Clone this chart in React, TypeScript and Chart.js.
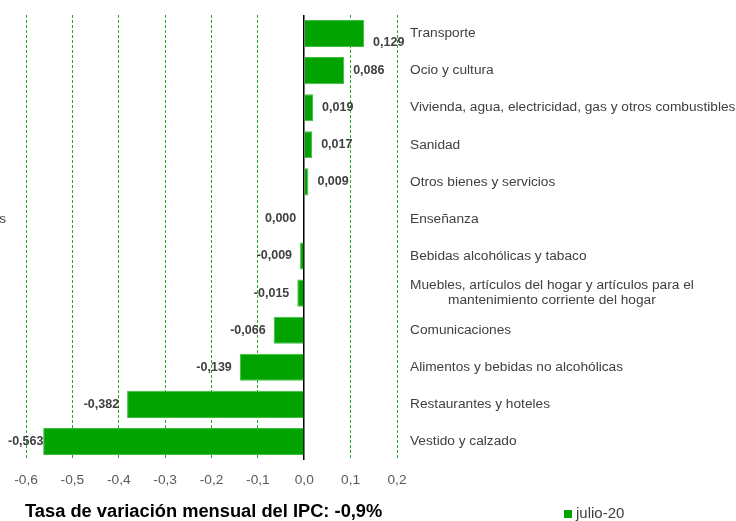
import React, { useEffect, useRef } from "react";
import { Chart, registerables } from "chart.js";

Chart.register(...registerables);

const categories: (string | string[])[] = [
  "Transporte",
  "Ocio y cultura",
  "Vivienda, agua, electricidad, gas y otros combustibles",
  "Sanidad",
  "Otros bienes y servicios",
  "Enseñanza",
  "Bebidas alcohólicas y tabaco",
  ["Muebles, artículos del hogar y artículos para el", "          mantenimiento corriente del hogar"],
  "Comunicaciones",
  "Alimentos y bebidas no alcohólicas",
  "Restaurantes y hoteles",
  "Vestido y calzado",
];

const values: number[] = [0.129, 0.086, 0.019, 0.017, 0.009, 0.0, -0.009, -0.015, -0.066, -0.139, -0.382, -0.563];

const seriesName = "julio-20";
const chartTitle = "Tasa de variación mensual del IPC: -0,9%";
const xMin = -0.6;
const xMax = 0.2;
const xStep = 0.1;

const FONT = '"Liberation Sans", Arial, sans-serif';
const GREEN = "#00a300";

const fmtTick = (v: number) => v.toFixed(1).replace(".", ",");
const fmtVal = (v: number) => v.toFixed(3).replace(".", ",");

const labelsPlugin = {
  id: "valueLabels",
  afterDatasetsDraw(chart: any) {
    const ctx = chart.ctx;
    const meta = chart.getDatasetMeta(0);
    ctx.save();
    ctx.font = `bold 12.5px ${FONT}`;
    ctx.fillStyle = "#404040";
    ctx.textBaseline = "middle";
    meta.data.forEach((bar: any, i: number) => {
      const v = values[i];
      const text = fmtVal(v);
      const w = ctx.measureText(text).width;
      const dy = i === 0 ? 9 : 0;
      if (v > 0) {
        ctx.textAlign = "left";
        ctx.fillText(text, bar.x + 9, bar.y + dy);
      } else {
        let right = bar.x - 8;
        if (right - w < 8) right = 8 + w;
        ctx.textAlign = "right";
        ctx.fillText(text, right, bar.y + dy);
      }
    });
    ctx.restore();
  },
  afterDraw(chart: any) {
    const ctx = chart.ctx;
    ctx.save();
    // title
    ctx.font = `bold 18.3px ${FONT}`;
    ctx.fillStyle = "#000000";
    ctx.textAlign = "left";
    ctx.textBaseline = "middle";
    ctx.fillText(chartTitle, 25, 512);
    // legend
    ctx.fillStyle = GREEN;
    ctx.fillRect(564, 510, 8, 8);
    ctx.font = `15px ${FONT}`;
    ctx.fillStyle = "#404040";
    ctx.fillText(seriesName, 576, 514);
    // stray clipped text at left edge
    ctx.font = `13.7px ${FONT}`;
    ctx.textAlign = "right";
    ctx.fillText("s", 6, 219);
    ctx.restore();
  },
};

export default function App() {
  const ref = useRef<HTMLCanvasElement | null>(null);
  useEffect(() => {
    if (!ref.current) return;
    const chart = new Chart(ref.current, {
      type: "bar",
      data: {
        labels: categories,
        datasets: [
          {
            label: seriesName,
            data: values,
            backgroundColor: GREEN,
            borderColor: "#3cc03c",
            borderWidth: 1,
            barPercentage: 0.73,
            categoryPercentage: 1,
          },
        ],
      },
      options: {
        indexAxis: "y",
        animation: false,
        responsive: true,
        maintainAspectRatio: false,
        layout: { padding: { left: 26, top: 15, right: 0, bottom: 0 } },
        plugins: {
          legend: { display: false },
          title: { display: false },
          tooltip: { enabled: false },
        },
        scales: {
          x: {
            type: "linear",
            min: xMin,
            max: xMax,
            ticks: {
              stepSize: xStep,
              callback: (v: any) => fmtTick(Number(v)),
              font: { family: FONT, size: 13.7 },
              color: "#595959",
              padding: 12,
              maxRotation: 0,
            },
            grid: {
              drawTicks: false,
              color: (c: any) => (c.tick && Math.abs(c.tick.value) < 1e-9 ? "#000000" : "#22aa22"),
              lineWidth: (c: any) => (c.tick && Math.abs(c.tick.value) < 1e-9 ? 1.5 : 1),
            },
            border: {
              display: false,
              dash: (c: any) => (c.tick && Math.abs(c.tick.value) < 1e-9 ? [] : [3, 2]),
            },
            afterFit: (s: any) => {
              s.height = 61;
            },
          },
          y: {
            position: "right",
            grid: { display: false, drawTicks: false },
            border: { display: false },
            ticks: {
              padding: 13,
              font: { family: FONT, size: 13.7, lineHeight: 1.1 },
              color: "#404040",
            },
            afterFit: (s: any) => {
              s.width = 339;
              s.paddingTop = 0;
              s.paddingBottom = 0;
            },
          },
        },
      },
      plugins: [labelsPlugin],
    } as any);
    return () => chart.destroy();
  }, []);
  return (
    <div style={{ position: "absolute", left: 0, top: 0, width: 736, height: 521, background: "#fff" }}>
      <canvas ref={ref} />
    </div>
  );
}
